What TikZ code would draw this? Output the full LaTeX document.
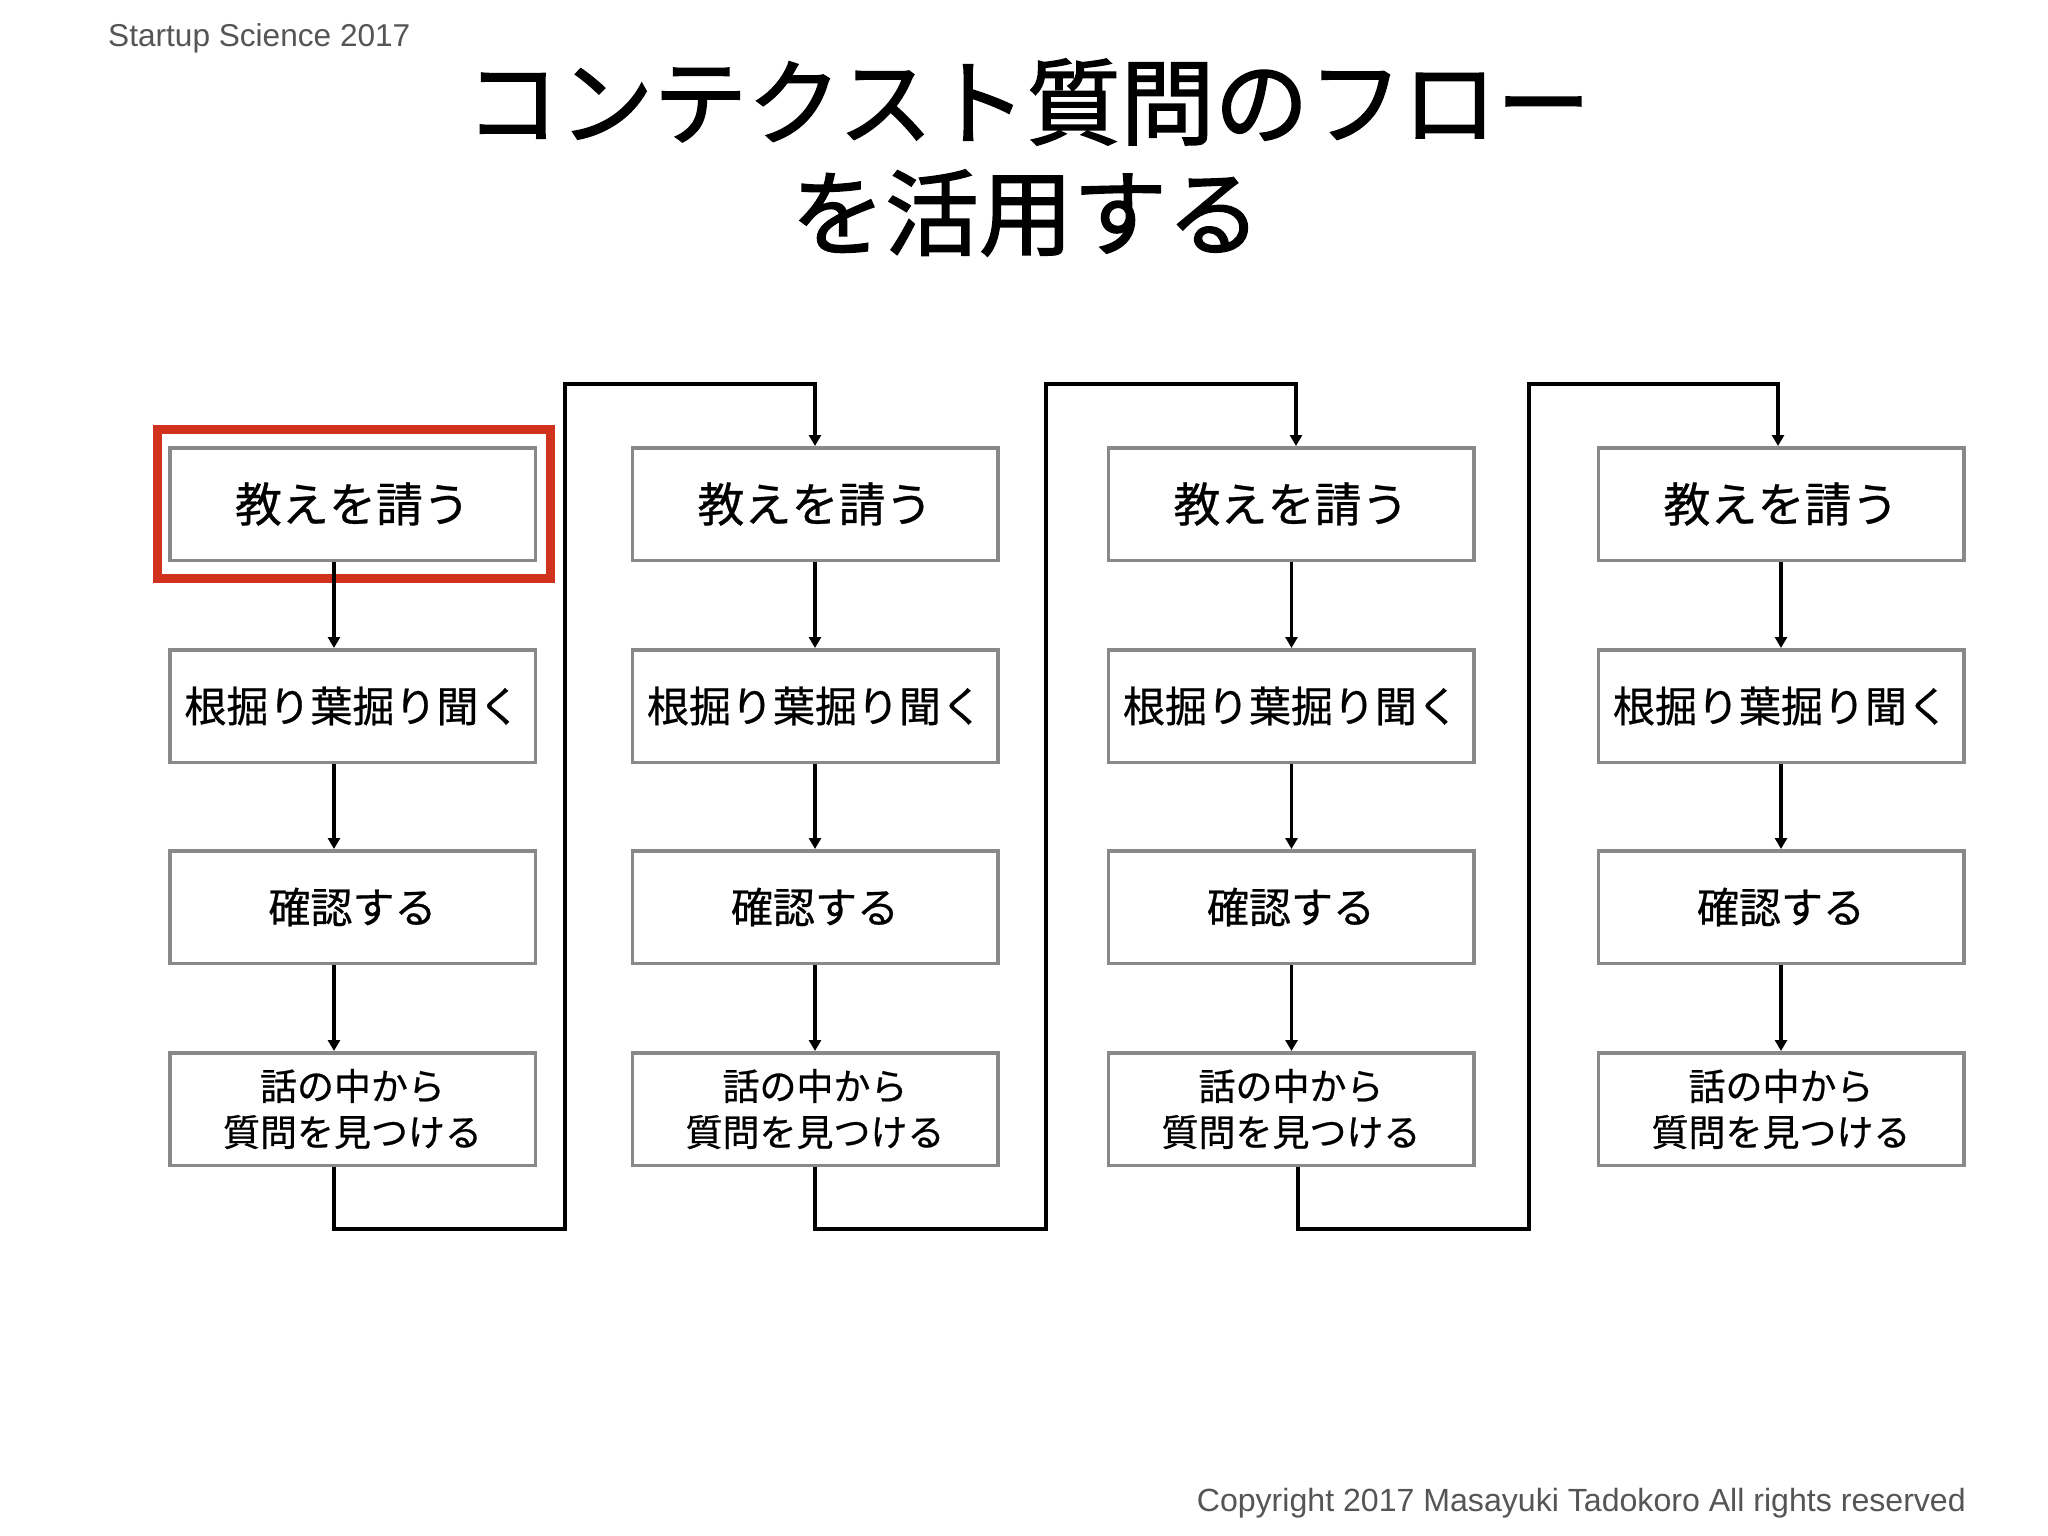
\documentclass[tikz,border=0pt]{standalone}
\usepackage{fontspec}
\setmainfont{Liberation Sans}
\newfontfamily\jpfont[FakeBold=0.6]{Noto Sans CJK JP}
\newfontfamily\jptitle[FakeBold=1.6]{Noto Sans CJK JP}
\usetikzlibrary{arrows.meta,calc}
\definecolor{boxgray}{HTML}{898989}
\definecolor{textgray}{HTML}{555555}
\definecolor{hlred}{HTML}{D0321E}
\begin{document}
\begin{tikzpicture}[x=1pt,y=-1pt,
  flowbox/.style={draw=boxgray,line width=3.5pt,fill=white,minimum width=365.5pt,minimum height=112.5pt,inner sep=0pt,align=center,font=\jpfont\fontsize{42}{50}\selectfont},
  firstbox/.style={flowbox,font=\jpfont\fontsize{47}{54}\selectfont},
  lastbox/.style={flowbox,font=\jpfont\fontsize{37}{46}\selectfont},
  flowarrow/.style={line width=3.5pt,-{Triangle[width=12pt,length=11pt]}},
  loopline/.style={line width=4.5pt,-{Triangle[width=12pt,length=11pt]}},
  hl/.style={draw=hlred,line width=8.5pt,line join=miter},
  smalltext/.style={inner sep=0pt,text=textgray,font=\fontsize{31.6}{36}\selectfont},
  copytext/.style={smalltext,font=\fontsize{32.1}{36}\selectfont},
  titletext/.style={inner sep=0pt,font=\jptitle\fontsize{94}{111}\selectfont}]
\useasboundingbox[fill=white] (0,0) rectangle (2048,1536);

% header / footer / title
\node[smalltext,anchor=base west] (hdr) at (108,47) {Startup Science 2017};
\node[copytext,anchor=base east] (copy) at (1966,1511) {Copyright 2017 Masayuki Tadokoro All rights reserved};
\node[titletext] (title1) at (1028,102) {コンテクスト質問のフロー};
\node[titletext] (title2) at (1026,213) {を活用する};

% highlight round the first box
\draw[hl] (157.5,429.5) rectangle (550.5,578.5);

% boxes
\foreach \c/\x in {1/352.5,2/815,3/1291,4/1781}{
  \node[firstbox] (a\c) at (\x,504) {教えを請う};
  \node[flowbox]  (b\c) at (\x,706) {根掘り葉掘り聞く};
  \node[flowbox]  (c\c) at (\x,907) {確認する};
  \node[lastbox]  (d\c) at (\x,1109) {話の中から\\質問を見つける};
}

% arrows within columns
\foreach \c/\o in {1/-18.5,2/0,3/0.5,4/0}{
  \draw[flowarrow] ($(a\c.south)+(\o,0)$) -- ($(b\c.north)+(\o,0)$);
  \draw[flowarrow] ($(b\c.south)+(\o,0)$) -- ($(c\c.north)+(\o,0)$);
  \draw[flowarrow] ($(c\c.south)+(\o,0)$) -- ($(d\c.north)+(\o,0)$);
}

% loop connectors between columns
\coordinate (v1b) at (565,1229);  \coordinate (v1t) at (565,384);
\coordinate (v2b) at (1046,1229); \coordinate (v2t) at (1046,384);
\coordinate (v3b) at (1529,1229); \coordinate (v3t) at (1529,384);

\draw[loopline] ($(d1.south)+(-18.5,0)$) |- (v1b) -- (v1t) -| (a2.north);
\draw[loopline] (d2.south) |- (v2b) -- (v2t) -| ($(a3.north)+(5,0)$);
\draw[loopline] ($(d3.south)+(7,0)$) |- (v3b) -- (v3t) -| ($(a4.north)+(-3,0)$);
\end{tikzpicture}
\end{document}
